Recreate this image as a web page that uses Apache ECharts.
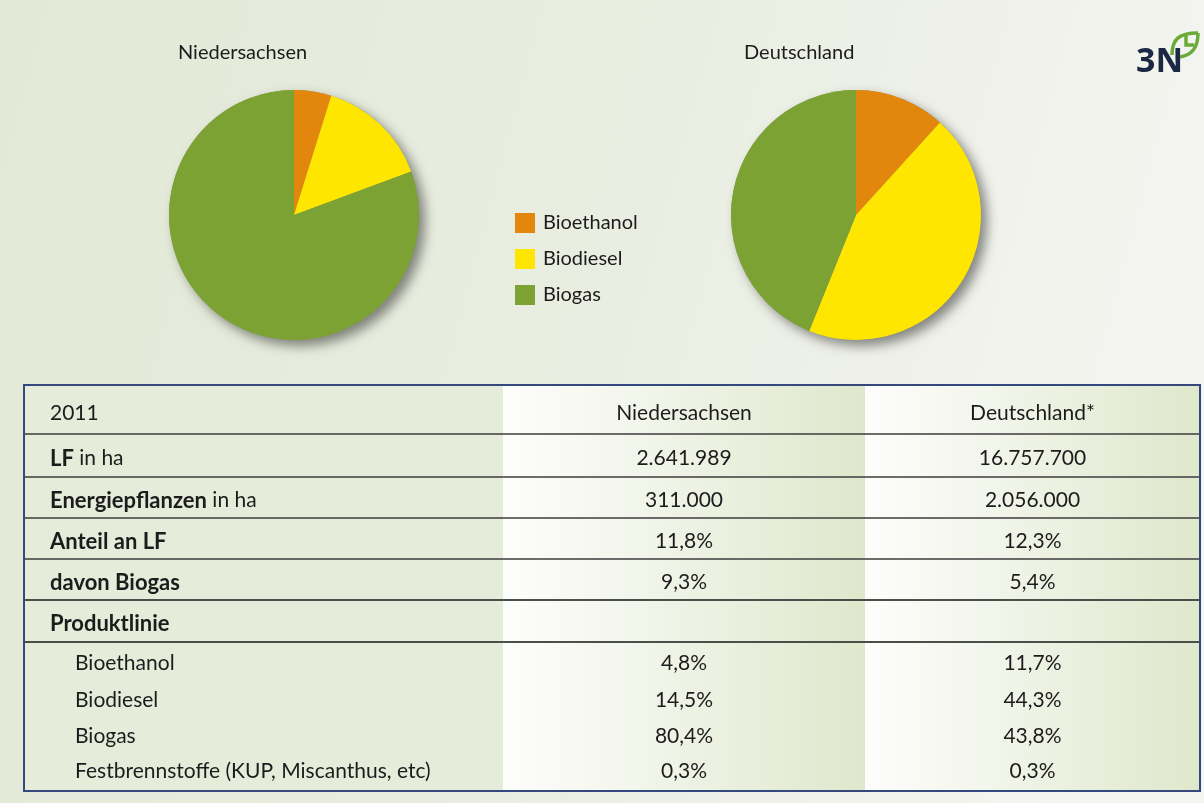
<!DOCTYPE html>
<html><head><meta charset="utf-8">
<script src="https://cdn.jsdelivr.net/npm/echarts@6/dist/echarts.min.js"></script>
<style>html,body{margin:0;padding:0;width:1204px;height:803px;overflow:hidden}#c{width:1204px;height:803px}</style>
</head><body><div id="c"></div><script>
// ---- data ----
const categories = ['Bioethanol', 'Biodiesel', 'Biogas'];
const regions = ['Niedersachsen', 'Deutschland'];
const niedersachsenShares = [4.8, 14.5, 80.4];
const deutschlandShares = [11.7, 44.3, 43.8];
const tableYear = '2011';
const tableHeader = ['Niedersachsen', 'Deutschland*'];
const rowLabelsBold = ['LF', 'Energiepflanzen', 'Anteil an LF', 'davon Biogas', 'Produktlinie'];
const rowLabelsNormal = [' in ha', ' in ha', '', '', ''];
const niedersachsenRows = ['2.641.989', '311.000', '11,8%', '9,3%', ''];
const deutschlandRows = ['16.757.700', '2.056.000', '12,3%', '5,4%', ''];
const productLines = ['Bioethanol', 'Biodiesel', 'Biogas', 'Festbrennstoffe (KUP, Miscanthus, etc)'];
const niedersachsenProduct = ['4,8%', '14,5%', '80,4%', '0,3%'];
const deutschlandProduct = ['11,7%', '44,3%', '43,8%', '0,3%'];

// ---- layout / style ----
const colors = ['#e3860e', '#ffe600', '#7ba232'];
const FONT = 'Lato, "Open Sans", sans-serif';
const T = { left: 24, right: 1200, top: 385, bottom: 791, col1: 503, col2: 865 };
const lineYs = [434, 477, 518, 559, 600, 642];
const productYs = [663, 700, 736, 771];
const textColor = '#1c1c1c';

const chart = echarts.init(document.getElementById('c'), null, { renderer: 'canvas' });
const G = echarts.graphic;
const els = [];

// table column backgrounds
els.push({ type: 'rect', shape: { x: T.left, y: T.top, width: T.col1 - T.left, height: T.bottom - T.top }, style: { fill: '#e6ecda' }, z: 1 });
const colGrad = () => new G.LinearGradient(0, 0, 1, 0, [
  { offset: 0, color: '#fdfdfb' }, { offset: 0.35, color: '#f3f6ec' }, { offset: 1, color: '#dfe7cc' }]);
els.push({ type: 'rect', shape: { x: T.col1, y: T.top, width: T.col2 - T.col1, height: T.bottom - T.top }, style: { fill: colGrad() }, z: 1 });
els.push({ type: 'rect', shape: { x: T.col2, y: T.top, width: T.right - T.col2, height: T.bottom - T.top }, style: { fill: colGrad() }, z: 1 });

// row lines
lineYs.forEach((y, i) => {
  els.push({ type: 'line', shape: { x1: T.left, y1: y, x2: T.right, y2: y },
    style: { stroke: i >= 4 ? '#4a4f4a' : '#3c3c3c', lineWidth: i >= 4 ? 2 : 1.3 }, z: 3 });
});
// outer border
els.push({ type: 'rect', shape: { x: T.left, y: T.top, width: T.right - T.left, height: T.bottom - T.top },
  style: { fill: 'none', stroke: '#35497e', lineWidth: 2 }, z: 4 });

function txt(s, x, y, align, size) {
  els.push({ type: 'text', z: 5, style: {
    text: s, x: x, y: y, fill: textColor, font: (size || 21) + 'px ' + FONT,
    align: align, textAlign: align, verticalAlign: 'middle', textVerticalAlign: 'middle' } });
}
const c1 = (T.col1 + T.col2) / 2, c2 = (T.col2 + T.right) / 2;
const rowTop = [T.top].concat(lineYs);
const rowCenter = i => (rowTop[i] + rowTop[i + 1]) / 2 + 3;

// header
txt(tableYear, 50, rowCenter(0) + 1, 'left');
txt(tableHeader[0], c1, rowCenter(0) + 1, 'center');
txt(tableHeader[1], c2, rowCenter(0) + 1, 'center');
// main rows
rowLabelsBold.forEach((b, i) => {
  const y = rowCenter(i + 1);
  els.push({ type: 'text', z: 5, style: {
    text: '{b|' + b + '}{n|' + rowLabelsNormal[i] + '}', x: 50, y: y,
    align: 'left', textAlign: 'left', verticalAlign: 'middle', textVerticalAlign: 'middle',
    rich: { b: { fontFamily: 'Lato', fontSize: 22, fontWeight: 'bold', fill: textColor, color: textColor },
            n: { fontFamily: 'Lato', fontSize: 21, fill: textColor, color: textColor } } } });
  txt(niedersachsenRows[i], c1, y, 'center');
  txt(deutschlandRows[i], c2, y, 'center');
});
// product rows
productLines.forEach((p, i) => {
  const y = productYs[i];
  txt(p, 75, y, 'left');
  txt(niedersachsenProduct[i], c1, y, 'center');
  txt(deutschlandProduct[i], c2, y, 'center');
});

// logo
els.push({ type: 'text', z: 5, style: { text: '3N', x: 1136, y: 62, font: 'bold 34px "Open Sans", sans-serif', fill: '#1b2844',
  align: 'left', textAlign: 'left', verticalAlign: 'middle', textVerticalAlign: 'middle' } });
const leafStyle = { fill: 'none', stroke: '#6cab3a', lineWidth: 3.5 };
els.push({ type: 'bezierCurve', z: 5, shape: { x1: 1172, y1: 55, cpx1: 1172, cpy1: 40, cpx2: 1178, cpy2: 33, x2: 1198, y2: 33 }, style: leafStyle });
els.push({ type: 'bezierCurve', z: 5, shape: { x1: 1198, y1: 33, cpx1: 1198, cpy1: 48, cpx2: 1192, cpy2: 55, x2: 1180, y2: 57 }, style: leafStyle });
els.push({ type: 'polyline', z: 5, shape: { points: [[1186, 36], [1186, 45], [1194, 45]] }, style: leafStyle });

const pieCenters = [[294, 215], [856, 215]];
const pieRadius = 125;
const shareSets = [niedersachsenShares, deutschlandShares];

const series = [];
shareSets.forEach((vals, k) => {
  // shadow disc underneath
  series.push({ type: 'pie', silent: true, z: 1, center: pieCenters[k], radius: pieRadius, startAngle: 90,
    label: { show: false }, labelLine: { show: false }, animation: false, legendHoverLink: false,
    data: [{ name: 'shadow' + k, value: vals.reduce((a, b) => a + b, 0) }],
    itemStyle: { color: '#8a9a70', shadowBlur: 12, shadowOffsetX: 6, shadowOffsetY: 6, shadowColor: 'rgba(0,0,0,0.45)' } });
  series.push({ type: 'pie', name: regions[k], z: 2, center: pieCenters[k], radius: pieRadius, startAngle: 90, clockwise: true,
    label: { show: false }, labelLine: { show: false }, animation: false,
    emphasis: { disabled: true }, itemStyle: { borderWidth: 0 },
    data: categories.map((c, i) => ({ name: c, value: vals[i], itemStyle: { color: colors[i] } })) });
});

chart.setOption({
  animation: false,
  backgroundColor: new G.LinearGradient(0, 0, 1, 0.4, [
    { offset: 0, color: '#e2e9d5' }, { offset: 0.55, color: '#eaeee2' }, { offset: 1, color: '#f4f5f1' }]),
  title: [
    { text: regions[0], left: 178, top: 43, padding: 0, textStyle: { fontFamily: FONT, fontSize: 20, fontWeight: 'normal', color: textColor } },
    { text: regions[1], left: 744, top: 43, padding: 0, textStyle: { fontFamily: FONT, fontSize: 20, fontWeight: 'normal', color: textColor } }
  ],
  legend: { data: categories, orient: 'vertical', left: 515, top: 213, padding: 0, icon: 'rect', itemWidth: 20, itemHeight: 20, itemGap: 16,
    selectedMode: false, textStyle: { fontFamily: FONT, fontSize: 20, color: textColor, padding: [0, 0, 0, 3] } },
  graphic: { elements: els },
  series: series
});
</script></body></html>
